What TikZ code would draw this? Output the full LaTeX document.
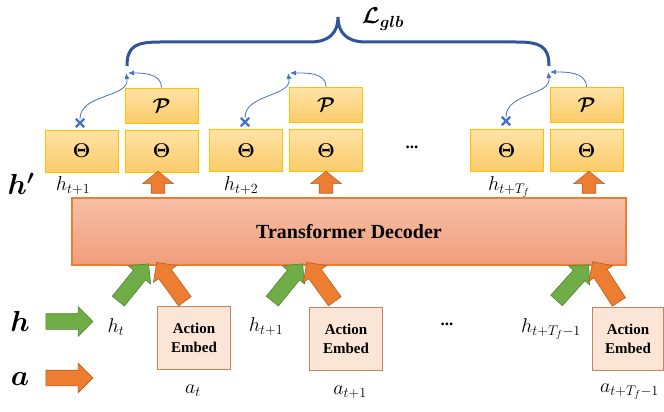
\RequirePackage{fix-cm}
\documentclass[tikz,border=0pt]{standalone}
\usepackage{amsmath,bm}
\usepackage{fontspec}
\setmainfont{Liberation Serif}
\usetikzlibrary{shapes.arrows,shapes.misc,arrows.meta,positioning}

\definecolor{gold}{HTML}{FFC000}
\definecolor{thetaTop}{HTML}{FFE3A6}
\definecolor{thetaBot}{HTML}{FACB68}
\definecolor{decTop}{HTML}{F6BFA6}
\definecolor{decBot}{HTML}{F19E7C}
\definecolor{decLine}{HTML}{ED7D31}
\definecolor{embedFill}{HTML}{FBE5D6}
\definecolor{embedLine}{HTML}{C8825C}
\definecolor{arrowGreen}{HTML}{70AD47}
\definecolor{arrowGreenLine}{HTML}{548235}
\definecolor{arrowOrange}{HTML}{ED7D31}
\definecolor{arrowOrangeLine}{HTML}{B85E22}
\definecolor{curveBlue}{HTML}{4472C4}
\definecolor{braceBlue}{HTML}{2F5597}

\begin{document}
\begin{tikzpicture}[x=1pt,y=-1pt,
    theta box/.style={draw=gold,line width=1pt,top color=thetaTop,bottom color=thetaBot,
      minimum width=73pt,minimum height=42pt,inner sep=0pt,font=\fontsize{20}{22}\selectfont},
    p box/.style={theta box,minimum height=35pt},
    embed box/.style={draw=embedLine,line width=1pt,fill=embedFill,minimum width=73pt,
      minimum height=63pt,inner sep=0pt,align=center,font=\fontsize{15}{17}\selectfont\bfseries},
    fat/.style={single arrow,inner xsep=0pt,single arrow head indent=0pt,line width=0.6pt},
    green arrow/.style={fat,fill=arrowGreen,draw=arrowGreenLine},
    orange arrow/.style={fat,fill=arrowOrange,draw=arrowOrangeLine},
    side/.style={minimum height=47pt,inner ysep=7.5pt,single arrow head extend=7pt},
    slant/.style={minimum height=48pt,inner ysep=7.5pt,single arrow head extend=6.5pt},
    up/.style={minimum height=22pt,inner ysep=6.5pt,single arrow head extend=8.5pt,
      single arrow tip angle=102,rotate=90},
    lab/.style={inner sep=0pt,font=\fontsize{20}{22}\selectfont},
    big/.style={inner sep=0pt,font=\fontsize{29}{31}\selectfont},
    xmark/.style={cross out,draw=curveBlue,line width=2.4pt,minimum size=6pt,inner sep=0pt},
    curve/.style={draw=curveBlue,line width=0.8pt,-{Latex[length=6pt,width=5pt]}}]

    \useasboundingbox (0,0) rectangle (664,412);

    % Define decoder and outputs
    \node[draw=decLine,line width=1.2pt,top color=decTop,bottom color=decBot,
      minimum width=554pt,minimum height=67pt] (dec) at (349,231.5)
      {\fontsize{20}{24}\selectfont\bfseries Transformer Decoder};

    \node[theta box] (th1) at (81.5,151) {$\bm{\Theta}$};
    \node[theta box] (th1b) [right=6pt of th1] {$\bm{\Theta}$};
    \node[p box] (p1) [above=6pt of th1b] {$\bm{\mathcal{P}}$};
    \node[theta box] (th2) at (246,150.5) {$\bm{\Theta}$};
    \node[theta box] (th2b) [right=6pt of th2] {$\bm{\Theta}$};
    \node[p box] (p2) [above=6pt of th2b] {$\bm{\mathcal{P}}$};
    \node[theta box] (th3) at (506.5,150.5) {$\bm{\Theta}$};
    \node[theta box] (th3b) [right=6pt of th3] {$\bm{\Theta}$};
    \node[p box] (p3) [above=6pt of th3b] {$\bm{\mathcal{P}}$};
    \node[font=\fontsize{17}{18}\selectfont\bfseries] (dots1) at (412,147) {...};

    \node[orange arrow,up] (up1) at (158,185) {};
    \node[orange arrow,up] (up2) at (326,185) {};
    \node[orange arrow,up] (up3) at (589,185) {};

    \node[lab] (ho1) at (73,186) {$h_{t+1}$};
    \node[lab] (ho2) at (241,186) {$h_{t+2}$};
    \node[lab] (ho3) at (509,187) {$h_{t+T_f}$};
    \node[big] (hp) at (21,184) {$\bm{h'}$};

    % Define loss
    \node[xmark] (x1) at (80,123) {};
    \node[xmark] (x2) at (245,122) {};
    \node[xmark] (x3) at (506,121) {};
    \coordinate (t1) at (126,73);
    \coordinate (t2) at (288,73);
    \coordinate (t3) at (548,72);
    \coordinate (bl) at (127,66);
    \coordinate (br) at (549,66);
    \coordinate (bm) at (338,17);
    \node[inner sep=0pt,font=\fontsize{23}{25}\selectfont] (loss) at (383,19) {$\bm{\mathcal{L}_{glb}}$};

    % Define inputs
    \node[big] (h) at (20,321) {$\bm{h}$};
    \node[big] (a) at (20,379) {$\bm{a}$};
    \node[green arrow,side] (hin) at (65.5,321.5) {};
    \node[orange arrow,side] (ain) at (65.5,378) {};

    \node[embed box] (e1) at (194,337.5) {Action\\[2pt]Embed};
    \node[embed box] (e2) at (346,339) {Action\\[2pt]Embed};
    \node[embed box,minimum width=71pt] (e3) at (628,338.5) {Action\\[2pt]Embed};
    \node[font=\fontsize{17}{18}\selectfont\bfseries] (dots2) at (447,324) {...};

    \node[lab] (hi1) at (116,327) {$h_t$};
    \node[lab] (hi2) at (266,327) {$h_{t+1}$};
    \node[lab] (hi3) at (551,329) {$h_{t+T_f-1}$};
    \node[lab] (ai1) at (193,391) {$a_t$};
    \node[lab] (ai2) at (350,392) {$a_{t+1}$};
    \node[lab,anchor=west] (ai3) at (600,392) {$a_{t+T_f-1}$};

    \node[green arrow,slant,rotate=51] (g1) at (131,285.5) {};
    \node[orange arrow,slant,rotate=126] (o1) at (173,285) {};
    \node[green arrow,slant,rotate=51] (g2) at (285,285.5) {};
    \node[orange arrow,slant,rotate=126] (o2) at (323,285) {};
    \node[green arrow,slant,rotate=48] (g3) at (570,285.5) {};
    \node[orange arrow,slant,rotate=123] (o3) at (608,285) {};

    % Draw edges
    \draw[curve] (x1.north) to[out=90,in=-80] (t1);
    \draw[curve] (p1.north) to[out=90,in=0] ([xshift=2pt]t1);
    \draw[curve] (x2.north) to[out=90,in=-80] (t2);
    \draw[curve] (p2.north) to[out=90,in=0] ([xshift=2pt]t2);
    \draw[curve] (x3.north) to[out=90,in=-80] (t3);
    \draw[curve] (p3.north) to[out=90,in=0] ([xshift=2pt]t3);

    \draw[braceBlue,line width=3pt]
      (bl) .. controls (127,46) and (136,42) .. (160,42) -- (310,42)
      .. controls (330,42) and (338,32) .. (bm)
      .. controls (338,32) and (346,42) .. (366,42) -- (516,42)
      .. controls (540,42) and (549,46) .. (br);

\end{tikzpicture}
\end{document}
